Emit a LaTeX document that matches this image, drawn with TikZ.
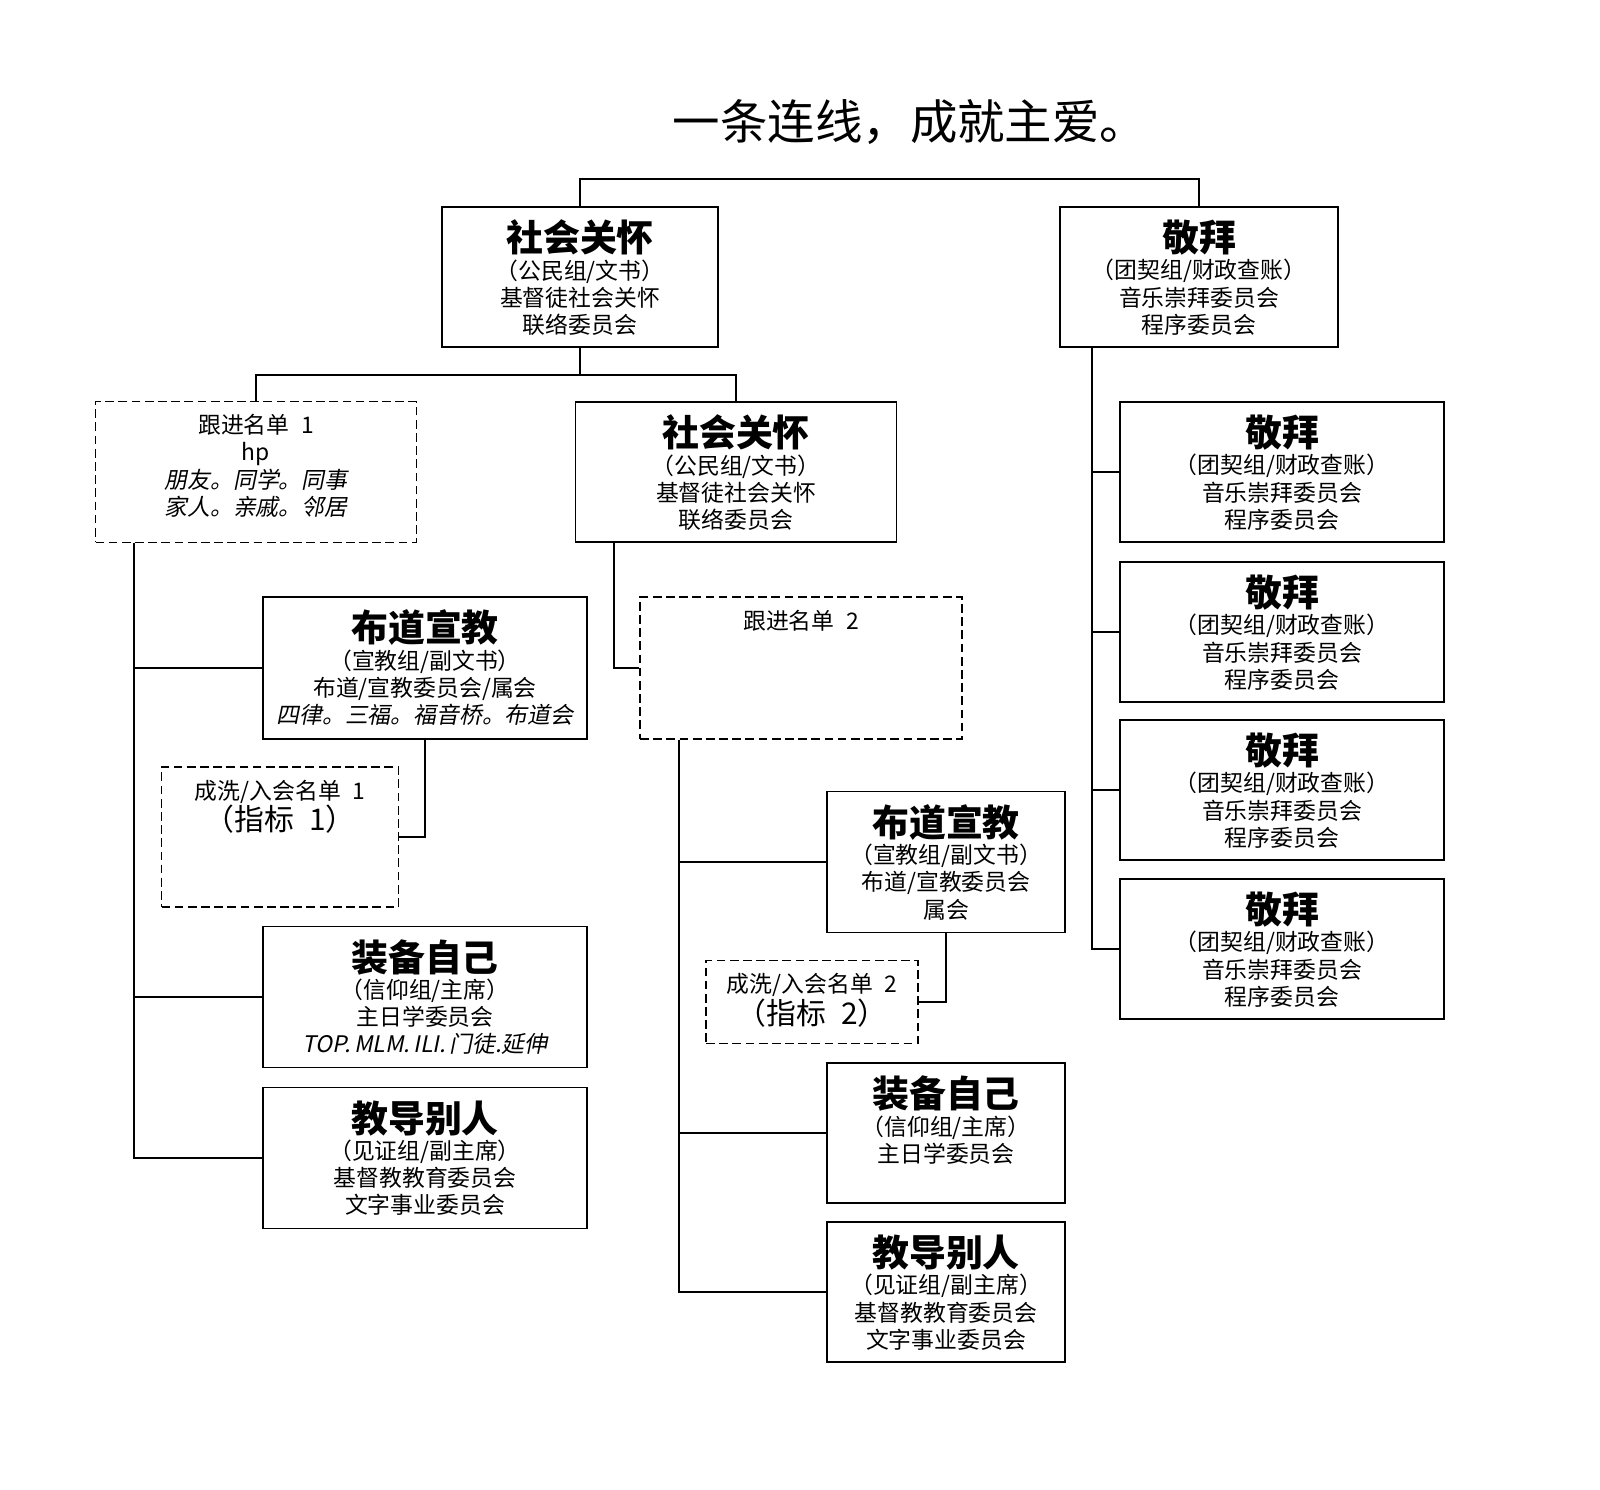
\documentclass[tikz,border=0pt]{standalone}
\usepackage{fontspec}
\setmainfont{Noto Sans CJK SC}
\newfontfamily\slantcjk{Noto Sans CJK SC}[FakeSlant=0.2]
\usetikzlibrary{calc}
\newcommand\boxtitle[1]{{\fontsize{21}{25}\selectfont\bfseries #1}}

\begin{document}
\begin{tikzpicture}[x=0.02cm, y=-0.02cm, line width=1pt,
    unit/.style={draw, minimum width=6.48cm, minimum height=2.8cm, inner sep=0pt},
    list/.style={unit, dash pattern=on 5pt off 2.5pt},
    txt/.style={anchor=north, inner sep=0pt, align=center, yshift=-0.26cm,
      font=\fontsize{13}{15.5}\selectfont}]
    \fill[white] (0,0) rectangle (1600,1490);
    \useasboundingbox (0,0) rectangle (1600,1490);

    \node[font=\fontsize{27}{30}\selectfont] (title) at (910,122) {一条连线，成就主爱。};

    \node[unit, minimum width=5.52cm] (soc) at (580,277) {};
    \node[txt] (soct) at (soc.north) {\boxtitle{社会关怀}\\（公民组/文书）\\基督徒社会关怀\\联络委员会};
    \node[unit, minimum width=5.56cm] (wor) at (1199,277) {};
    \node[txt] (wort) at (wor.north) {\boxtitle{敬拜}\\（团契组/财政查账）\\音乐崇拜委员会\\程序委员会};

    \node[list, minimum width=6.42cm, minimum height=2.82cm] (fol1) at (256,472) {};
    \node[txt] (fol1t) at (fol1.north) {跟进名单\hspace{0.5em}1\\hp\\{\slantcjk 朋友。同学。同事}\\{\slantcjk 家人。亲戚。邻居}};
    \node[unit, minimum width=6.42cm] (soc2) at (736,472) {};
    \node[txt] (soc2t) at (soc2.north) {\boxtitle{社会关怀}\\（公民组/文书）\\基督徒社会关怀\\联络委员会};

    \node[unit, minimum height=2.84cm] (mis1) at (425,668) {};
    \node[txt] (mis1t) at (mis1.north) {\boxtitle{布道宣教}\\（宣教组/副文书）\\布道/宣教委员会/属会\\{\slantcjk 四律。三福。福音桥。布道会}};
    \node[list, minimum width=4.74cm] (bap1) at (280,837) {};
    \node[txt] (bap1t) at (bap1.north) {成洗/入会名单\hspace{0.5em}1\\{\fontsize{17}{19}\selectfont （指标\hspace{0.5em}1）}};
    \node[unit, minimum height=2.82cm] (equ1) at (425,997) {};
    \node[txt] (equ1t) at (equ1.north) {\boxtitle{装备自己}\\（信仰组/主席）\\主日学委员会\\{\slantcjk TOP.\,MLM.\,ILI.\,门徒.延伸}};
    \node[unit, minimum height=2.82cm] (tea1) at (425,1158) {};
    \node[txt] (tea1t) at (tea1.north) {\boxtitle{教导别人}\\（见证组/副主席）\\基督教教育委员会\\文字事业委员会};

    \node[list, minimum width=6.44cm, minimum height=2.84cm] (fol2) at (801,668) {};
    \node[txt] (fol2t) at (fol2.north) {跟进名单\hspace{0.5em}2};
    \node[unit, minimum width=4.76cm, minimum height=2.82cm] (mis2) at (946,862) {};
    \node[txt] (mis2t) at (mis2.north) {\boxtitle{布道宣教}\\（宣教组/副文书）\\布道/宣教委员会\\属会};
    \node[list, minimum width=4.24cm, minimum height=1.66cm] (bap2) at (812,1002) {};
    \node[txt] (bap2t) at (bap2.north) {成洗/入会名单\hspace{0.5em}2\\{\fontsize{17}{19}\selectfont （指标\hspace{0.5em}2）}};
    \node[unit, minimum width=4.76cm] (equ2) at (946,1133) {};
    \node[txt] (equ2t) at (equ2.north) {\boxtitle{装备自己}\\（信仰组/主席）\\主日学委员会};
    \node[unit, minimum width=4.76cm] (tea2) at (946,1292) {};
    \node[txt] (tea2t) at (tea2.north) {\boxtitle{教导别人}\\（见证组/副主席）\\基督教教育委员会\\文字事业委员会};

    \foreach \n/\y in {1/472, 2/632, 3/790, 4/949} {
        \node[unit] (wor\n) at (1282,\y) {};
        \node[txt] (wor\n t) at (wor\n.north) {\boxtitle{敬拜}\\（团契组/财政查账）\\音乐崇拜委员会\\程序委员会};
    }

    \draw (soc.north) -- ++(0,-27) -| (wor.north);
    \draw (soc.south) -- ++(0,27) -| (fol1.north);
    \draw (soc.south) ++(0,27) -| (soc2.north);

    \draw ($(fol1.south west)+(39,0)$) |- (tea1.west);
    \draw ($(fol1.south west)+(39,0)$) |- (mis1.west);
    \draw ($(fol1.south west)+(39,0)$) |- (equ1.west);
    \draw (mis1.south) |- (bap1.east);

    \draw ($(soc2.south west)+(39,0)$) |- (fol2.west);
    \draw ($(fol2.south west)+(40,0)$) |- (tea2.west);
    \draw ($(fol2.south west)+(40,0)$) |- (mis2.west);
    \draw ($(fol2.south west)+(40,0)$) |- (equ2.west);
    \draw (mis2.south) |- (bap2.east);

    \draw ($(wor.south west)+(33,0)$) |- (wor4.west);
    \foreach \n in {1,2,3} {
        \draw ($(wor.south west)+(33,0)$) |- (wor\n.west);
    }
\end{tikzpicture}
\end{document}
